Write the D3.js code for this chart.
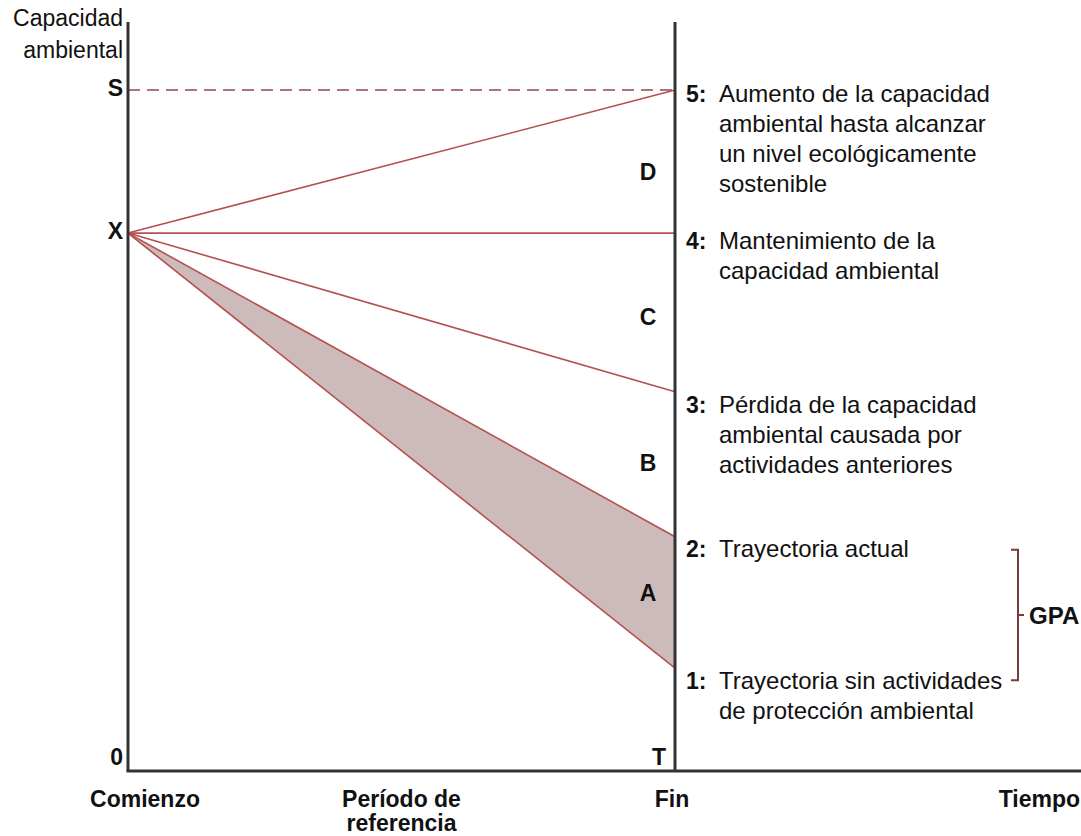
<!DOCTYPE html>
<html>
<head>
<meta charset="utf-8">
<script src="https://cdnjs.cloudflare.com/ajax/libs/d3/7.8.5/d3.min.js"></script>
<style>
  body { margin: 0; background: #fff; }
  text { font-family: "Liberation Sans", Arial, sans-serif; fill: #111; }
</style>
</head>
<body>
<div id="chart-area"></div>
<script>
// Capacidad ambiental values (arbitrary units), 0 = bottom axis
const levels = { S: 100, X: 79 };
const trajectories = [
    { id: "5", end: 100, text: ["Aumento de la capacidad", "ambiental hasta alcanzar", "un nivel ecológicamente", "sostenible"] },
    { id: "4", end: 79, text: ["Mantenimiento de la", "capacidad ambiental"] },
    { id: "3", end: 55.7, text: ["Pérdida de la capacidad", "ambiental causada por", "actividades anteriores"] },
    { id: "2", end: 34.4, text: ["Trayectoria actual"] },
    { id: "1", end: 15.1, text: ["Trayectoria sin actividades", "de protección ambiental"] }
];
const zones = [
    { name: "D", value: 88.0 },
    { name: "C", value: 66.7 },
    { name: "B", value: 45.2 },
    { name: "A", value: 26.2 }
];
const bottomLabels = [
    { t: 0, lines: ["Comienzo"] },
    { t: 0.5, lines: ["Período de", "referencia"] },
    { t: 1, lines: ["Fin"] }
];

const width = 1081, height = 836;

const x = d3.scaleLinear().domain([0, 1]).range([128, 675]);
const y = d3.scaleLinear().domain([0, 110]).range([771, 22]);

const svg = d3.select("#chart-area").append("svg")
    .attr("width", width).attr("height", height);

const lineColor = "#b4514f";
const axisColor = "#333";

// shaded area between trajectories 1 and 2
const t1 = trajectories.find(d => d.id === "1");
const t2 = trajectories.find(d => d.id === "2");
const area = d3.area()
    .x(d => x(d.t))
    .y0(d => y(d.lo))
    .y1(d => y(d.hi));
svg.append("path")
    .datum([{ t: 0, lo: levels.X, hi: levels.X }, { t: 1, lo: t1.end, hi: t2.end }])
    .attr("d", area)
    .attr("fill", "#cdbbbb");

// dashed S line
svg.append("line")
    .attr("x1", x(0)).attr("x2", x(1))
    .attr("y1", y(levels.S)).attr("y2", y(levels.S))
    .attr("stroke", "#8e4a4a").attr("stroke-width", 1.5)
    .attr("stroke-dasharray", "12,7");

// trajectory lines
svg.selectAll(".traj").data(trajectories).enter().append("line")
    .attr("class", "traj")
    .attr("x1", x(0)).attr("y1", y(levels.X))
    .attr("x2", x(1)).attr("y2", d => y(d.end))
    .attr("stroke", lineColor).attr("stroke-width", 1.6);

// axes
svg.append("line")
    .attr("x1", x(0)).attr("x2", x(0))
    .attr("y1", y(110)).attr("y2", y(0))
    .attr("stroke", axisColor).attr("stroke-width", 3);
svg.append("line")
    .attr("x1", x(1)).attr("x2", x(1))
    .attr("y1", y(110)).attr("y2", y(0))
    .attr("stroke", axisColor).attr("stroke-width", 3);
svg.append("line")
    .attr("x1", x(0) - 1.5).attr("x2", width)
    .attr("y1", y(0)).attr("y2", y(0))
    .attr("stroke", axisColor).attr("stroke-width", 3);

// y-axis title and level labels
svg.append("text")
    .attr("text-anchor", "end").attr("font-size", "23px")
    .selectAll("tspan").data(["Capacidad", "ambiental"]).enter().append("tspan")
    .attr("x", 123).attr("y", (d, i) => 26 + i * 32)
    .text(d => d);

const yLabels = [{ t: "S", v: levels.S }, { t: "X", v: levels.X }, { t: "0", v: 0 }];
svg.selectAll(".ylab").data(yLabels).enter().append("text")
    .attr("class", "ylab")
    .attr("x", 123).attr("y", d => d.v === 0 ? y(0) - 6 : y(d.v) + 6)
    .attr("text-anchor", "end").attr("font-size", "23px").attr("font-weight", "bold")
    .text(d => d.t);

svg.append("text")
    .attr("x", x(1) - 9).attr("y", y(0) - 6)
    .attr("text-anchor", "end").attr("font-size", "23px").attr("font-weight", "bold")
    .text("T");

// zone letters
svg.selectAll(".zone").data(zones).enter().append("text")
    .attr("class", "zone")
    .attr("x", 648).attr("y", d => y(d.value) + 8)
    .attr("text-anchor", "middle").attr("font-size", "23px").attr("font-weight", "bold")
    .text(d => d.name);

// trajectory descriptions (label offset below each end point, in px)
const labelOffset = { "5": 12, "4": 16, "3": 21, "2": 20, "1": 21 };
const desc = svg.selectAll(".desc").data(trajectories).enter().append("g")
    .attr("class", "desc")
    .attr("transform", d => `translate(0, ${y(d.end) + labelOffset[d.id]})`);
desc.append("text")
    .attr("x", 686).attr("font-size", "23px").attr("font-weight", "bold")
    .text(d => d.id + ":");
desc.append("text")
    .attr("font-size", "24px")
    .selectAll("tspan").data(d => d.text).enter().append("tspan")
    .attr("x", 719).attr("y", (d, i) => i * 30)
    .text(d => d);

// GPA bracket
const bTop = y(t2.end) + 13, bBot = y(t1.end) + 12, bx = 1018;
svg.append("path")
    .attr("d", `M${bx - 7},${bTop} H${bx} V${bBot} H${bx - 7} M${bx},${(bTop + bBot) / 2} H${bx + 6}`)
    .attr("fill", "none").attr("stroke", "#7a3a3a").attr("stroke-width", 2);
svg.append("text")
    .attr("x", 1029).attr("y", (bTop + bBot) / 2 + 9)
    .attr("font-size", "24px").attr("font-weight", "bold")
    .text("GPA");

// bottom labels
svg.selectAll(".blab").data(bottomLabels).enter().append("text")
    .attr("class", "blab")
    .attr("text-anchor", "middle").attr("font-size", "23px").attr("font-weight", "bold")
    .selectAll("tspan").data(d => d.lines.map(l => ({ l, t: d.t }))).enter().append("tspan")
    .attr("x", d => d.t === 0 ? 145 : (d.t === 1 ? 672 : x(d.t)))
    .attr("y", (d, i) => 807 + i * 24)
    .text(d => d.l);
svg.append("text")
    .attr("x", 1080).attr("y", 807)
    .attr("text-anchor", "end").attr("font-size", "23px").attr("font-weight", "bold")
    .text("Tiempo");
</script>
</body>
</html>
